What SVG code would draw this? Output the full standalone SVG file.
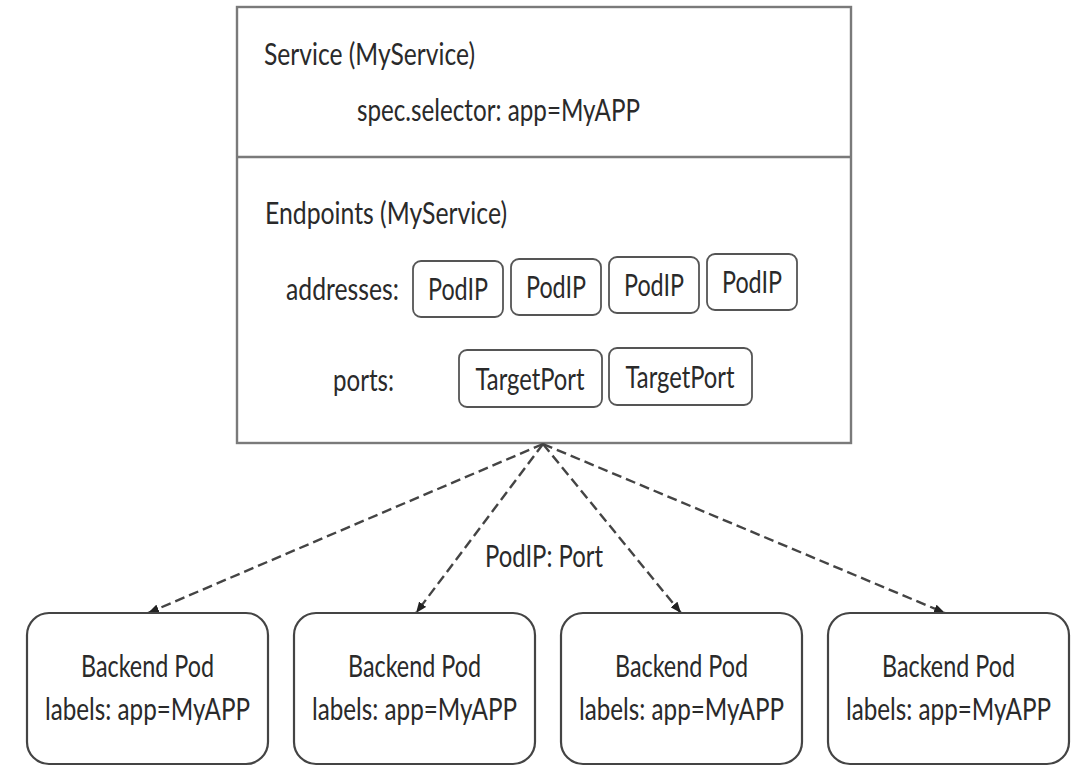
<svg xmlns="http://www.w3.org/2000/svg" width="1088" height="774" viewBox="0 0 1088 774">
  <defs>
    <marker id="arrow" viewBox="0 0 10 8" refX="10" refY="4" markerWidth="11" markerHeight="9" markerUnits="userSpaceOnUse" orient="auto">
      <path d="M0,0 L10,4 L0,8 Z" fill="#222"/>
    </marker>
    <style>
      text { font-family: Lato, "Open Sans", "Liberation Sans", sans-serif; font-size: 31px; fill: #2a2a2a; }
      .mid { text-anchor: middle; }
      .frame { fill: #fff; stroke: #7a7a7a; stroke-width: 2.4; }
      .chip { fill: #fff; stroke: #555; stroke-width: 1.8; }
      .pod { fill: #fff; stroke: #444; stroke-width: 2.2; }
      .conn { fill: none; stroke: #444; stroke-width: 2.4; stroke-dasharray: 10 5; marker-end: url(#arrow); }
    </style>
  </defs>
  <rect width="1088" height="774" fill="#fff"/>

  <g id="service">
    <rect class="frame" x="237" y="7" width="614" height="436"/>
    <line x1="237" y1="157" x2="851" y2="157" stroke="#7a7a7a" stroke-width="2.4"/>
    <text transform="translate(264,65) scale(0.8,1)" textLength="263.75" lengthAdjust="spacingAndGlyphs">Service (MyService)</text>
    <text transform="translate(357,121) scale(0.8,1)" textLength="353.75" lengthAdjust="spacingAndGlyphs">spec.selector: app=MyAPP</text>
  </g>

  <g id="endpoints">
    <text transform="translate(265,224) scale(0.8,1)" textLength="302.5" lengthAdjust="spacingAndGlyphs">Endpoints (MyService)</text>
    <text transform="translate(286,300) scale(0.8,1)" textLength="141.25" lengthAdjust="spacingAndGlyphs">addresses:</text>
    <text transform="translate(333,391) scale(0.8,1)" textLength="76.25" lengthAdjust="spacingAndGlyphs">ports:</text>
  </g>

  <g id="podip1">
    <rect class="chip" x="413" y="261" width="90" height="56" rx="8"/>
    <text class="mid" transform="translate(458,300) scale(0.8,1)" textLength="75" lengthAdjust="spacingAndGlyphs">PodIP</text>
  </g>
  <g id="podip2">
    <rect class="chip" x="511" y="259" width="90" height="56" rx="8"/>
    <text class="mid" transform="translate(556,298) scale(0.8,1)" textLength="75" lengthAdjust="spacingAndGlyphs">PodIP</text>
  </g>
  <g id="podip3">
    <rect class="chip" x="609" y="257" width="90" height="56" rx="8"/>
    <text class="mid" transform="translate(654,296) scale(0.8,1)" textLength="75" lengthAdjust="spacingAndGlyphs">PodIP</text>
  </g>
  <g id="podip4">
    <rect class="chip" x="707" y="254" width="90" height="56" rx="8"/>
    <text class="mid" transform="translate(752,293) scale(0.8,1)" textLength="75" lengthAdjust="spacingAndGlyphs">PodIP</text>
  </g>

  <g id="targetport1">
    <rect class="chip" x="459" y="350" width="143" height="57" rx="8"/>
    <text class="mid" transform="translate(530,390) scale(0.8,1)" textLength="136.25" lengthAdjust="spacingAndGlyphs">TargetPort</text>
  </g>
  <g id="targetport2">
    <rect class="chip" x="609" y="348" width="143" height="57" rx="8"/>
    <text class="mid" transform="translate(680,388) scale(0.8,1)" textLength="136.25" lengthAdjust="spacingAndGlyphs">TargetPort</text>
  </g>

  <g id="connectors">
    <line class="conn" x1="543" y1="444" x2="148" y2="613"/>
    <line class="conn" x1="543" y1="444" x2="416" y2="613"/>
    <line class="conn" x1="543" y1="444" x2="681" y2="613"/>
    <line class="conn" x1="543" y1="444" x2="945" y2="613"/>
    <text class="mid" transform="translate(544,567) scale(0.8,1)" textLength="147.5" lengthAdjust="spacingAndGlyphs">PodIP: Port</text>
  </g>

  <g id="pod1">
    <rect class="pod" x="27" y="613" width="241" height="151" rx="22"/>
    <text class="mid" transform="translate(147.5,677) scale(0.8,1)" textLength="166.25" lengthAdjust="spacingAndGlyphs">Backend Pod</text>
    <text class="mid" transform="translate(147.5,720) scale(0.8,1)" textLength="256.25" lengthAdjust="spacingAndGlyphs">labels: app=MyAPP</text>
  </g>
  <g id="pod2">
    <rect class="pod" x="294" y="613" width="241" height="151" rx="22"/>
    <text class="mid" transform="translate(414.5,677) scale(0.8,1)" textLength="166.25" lengthAdjust="spacingAndGlyphs">Backend Pod</text>
    <text class="mid" transform="translate(414.5,720) scale(0.8,1)" textLength="256.25" lengthAdjust="spacingAndGlyphs">labels: app=MyAPP</text>
  </g>
  <g id="pod3">
    <rect class="pod" x="561" y="613" width="241" height="151" rx="22"/>
    <text class="mid" transform="translate(681.5,677) scale(0.8,1)" textLength="166.25" lengthAdjust="spacingAndGlyphs">Backend Pod</text>
    <text class="mid" transform="translate(681.5,720) scale(0.8,1)" textLength="256.25" lengthAdjust="spacingAndGlyphs">labels: app=MyAPP</text>
  </g>
  <g id="pod4">
    <rect class="pod" x="828" y="613" width="241" height="151" rx="22"/>
    <text class="mid" transform="translate(948.5,677) scale(0.8,1)" textLength="166.25" lengthAdjust="spacingAndGlyphs">Backend Pod</text>
    <text class="mid" transform="translate(948.5,720) scale(0.8,1)" textLength="256.25" lengthAdjust="spacingAndGlyphs">labels: app=MyAPP</text>
  </g>
</svg>
